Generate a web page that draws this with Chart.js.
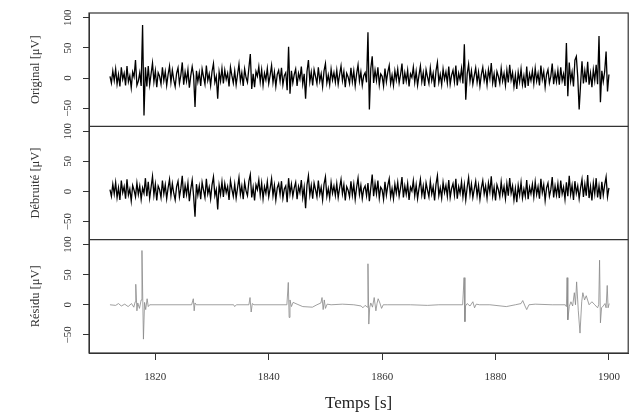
<!DOCTYPE html>
<html>
<head>
<meta charset="utf-8">
<script src="https://cdn.jsdelivr.net/npm/chart.js@4/dist/chart.umd.min.js"></script>
<style>
  body { margin: 0; background: #fff; }
  #wrap { width: 631px; height: 417px; }
</style>
</head>
<body>
<div id="wrap"><canvas id="chart" width="631" height="417"></canvas></div>
<script>
// dense signals are sampled every 0.25 s from 1812 s
const tStart = 1812;
const tStep = 0.25;

const original = [
  3, -8, 12, -4, 15, -10, 6, -14, 18, -2, 8, -12, 20, -6, 4, -16, 10, 2, 30, -12,
  -5, 9, -13, 88, -62, 18, -14, 20, -11, 7, 25, -6, 12, -15, 9, 3, -10, 18, -4, 11,
  -12, 6, 20, -7, 13, -3, -14, 8, 17, -9, 5, 26, -11, 10, -5, 14, -16, 4, 19, 4,
  -48, 12, -6, 9, -13, 15, 2, -10, 21, -4, 7, -12, 11, 24, -7, 3, -34, 10, -5, 16,
  -9, 13, -2, 8, -14, 18, 4, -8, 12, -11, 6, 23, -5, 9, -13, 15, 1, -7, 17, 40,
  -18, 7, -15, 11, 3, 19, -6, 14, -12, 8, -3, 16, -9, 5, 21, -7, 10, -14, 6, 13,
  -5, 17, -11, 4, 9, -20, 52, -26, 12, -8, 6, 15, -13, 8, -2, 19, -10, 7, -34, 11,
  30, -6, 10, -12, 14, 3, -9, 18, -5, 7, -14, 12, 24, -8, 5, -11, 15, -3, 9, -7,
  13, -10, 6, 20, -4, 11, -15, 8, 2, -9, 17, -6, 12, -13, 7, 22, -5, 10, -12, 4,
  9, -7, 76, -52, 16, 36, -8, 13, -4, 18, -11, 7, 3, -13, 16, -6, 10, 21, -9, 5,
  -12, 12, -3, 15, -8, 6, 24, -10, 9, -5, 13, -14, 7, 1, 18, -7, 11, -12, 5, 20,
  -6, 9, -13, 14, 2, -9, 17, -4, 8, -15, 12, 26, -7, 6, -11, 15, -2, 10, -8, 19,
  -10, 5, 13, -6, 21, -12, 8, -3, 16, -9, 56, -36, 7, 23, -5, 12, -10, 4, 17, -7,
  10, -13, 6, 18, -4, 9, -11, 14, -1, 25, -8, 7, -15, 11, 3, -9, 16, -5, 8, -12,
  13, -7, 22, -3, 9, -14, 5, -18, 10, -6, 15, -11, 4, -16, 19, -13, 7, -4, 12, -9,
  16, -5, 8, -12, 21, -2, 11, -15, 6, 14, -8, 3, 24, -10, 9, -6, 13, -11, 18, -4,
  7, -13, 58, -30, 26, -5, 10, -14, 30, 36, 2, -52, -10, 28, -9, 12, -7, 27, -11, 8,
  -15, 14, -4, 22, -10, 70, -40, 12, -6, 11, 44, -22, 6
];

const denoised = [
  3, -8, 12, -4, 15, -10, 6, -14, 18, -2, 8, -12, 20, -6, 4, -16, 10, 2, -9, 14,
  -5, 9, -13, 6, -3, 22, -8, 16, -11, 7, 25, -6, 12, -15, 9, 3, -10, 18, -4, 11,
  -12, 6, 20, -7, 13, -3, -14, 8, 17, -9, 5, 26, -11, 10, -5, 14, -16, 4, 19, -8,
  -42, 12, -6, 9, -13, 15, 2, -10, 21, -4, 7, -12, 11, 24, -7, 3, -30, 10, -5, 16,
  -9, 13, -2, 8, -14, 18, 4, -8, 12, -11, 6, 23, -5, 9, -13, 15, 1, -7, 17, 28,
  -10, 7, -15, 11, 3, 19, -6, 14, -12, 8, -3, 16, -9, 5, 21, -7, 10, -14, 6, 13,
  -5, 17, -11, 4, 9, -18, 22, -4, 12, -8, 6, 15, -13, 8, -2, 19, -10, 7, -28, 11,
  26, -6, 10, -12, 14, 3, -9, 18, -5, 7, -14, 12, 24, -8, 5, -11, 15, -3, 9, -7,
  13, -10, 6, 20, -4, 11, -15, 8, 2, -9, 17, -6, 12, -13, 7, 22, -5, 10, -12, 4,
  9, -7, 14, -16, 6, 28, -8, 13, -4, 18, -11, 7, 3, -13, 16, -6, 10, 21, -9, 5,
  -12, 12, -3, 15, -8, 6, 24, -10, 9, -5, 13, -14, 7, 1, 18, -7, 11, -12, 5, 20,
  -6, 9, -13, 14, 2, -9, 17, -4, 8, -15, 12, 26, -7, 6, -11, 15, -2, 10, -8, 19,
  -10, 5, 13, -6, 21, -12, 8, -3, 16, -9, 11, -14, 7, 23, -5, 12, -10, 4, 17, -7,
  10, -13, 6, 18, -4, 9, -11, 14, -1, 25, -8, 7, -15, 11, 3, -9, 16, -5, 8, -12,
  13, -7, 22, -3, 9, -14, 5, -18, 10, -6, 15, -11, 4, -8, 19, -13, 7, -4, 12, -9,
  16, -5, 8, -12, 21, -2, 11, -15, 6, 14, -8, 3, 24, -10, 9, -6, 13, -11, 18, -4,
  7, -13, 15, -8, 26, -5, 10, -14, 17, -3, 9, -12, 6, 20, -9, 12, -7, 27, -11, 8,
  -15, 14, -4, 22, -10, 9, -13, 16, -6, 11, 24, -9, 6
];

// residual: mostly flat, so only the turning points are kept
const residT = [
  1812, 1813, 1813.5, 1814, 1814.6, 1815.2, 1815.8, 1816.2, 1816.45, 1816.55,
  1816.75, 1816.9, 1817.2, 1817.5, 1817.64, 1817.9, 1818.1, 1818.3, 1818.55, 1818.75,
  1819, 1826.4, 1826.7, 1826.85, 1827.0, 1827.2, 1830, 1833.8, 1834.0, 1834.3,
  1836.5, 1836.7, 1836.9, 1837.1, 1837.4, 1843.2, 1843.45, 1843.6, 1843.75, 1844.0,
  1844.3, 1845, 1846, 1847.7, 1848.5, 1849.2, 1849.4, 1849.6, 1849.8, 1850.0,
  1850.3, 1851, 1853, 1855, 1856.3, 1856.6, 1857.0, 1857.4, 1857.5, 1857.65,
  1857.8, 1858.0, 1858.3, 1858.6, 1858.9, 1859.1, 1859.3, 1859.6, 1859.9, 1860.2,
  1861, 1865, 1868, 1870, 1874.2, 1874.45, 1874.6, 1874.7, 1875.0, 1875.5,
  1876.0, 1876.3, 1876.6, 1877.2, 1879, 1881.9, 1883.5, 1884.5, 1884.8, 1885.2,
  1885.5, 1885.9, 1887, 1890, 1892.3, 1892.5, 1892.62, 1892.75, 1893.0, 1893.3,
  1893.6, 1893.9, 1894.1, 1894.3, 1894.6, 1894.9, 1895.2, 1895.4, 1895.7, 1896.0,
  1896.5, 1897.0, 1897.5, 1898.0, 1898.2, 1898.35, 1898.5, 1898.7, 1899.0, 1899.3,
  1899.5, 1899.7, 1899.85, 1900.05
];
const residV = [
  0, -1, 2, -2, 1, -3, 2, -4, 5, 34,
  -10, 3, -6, 8, 90, -57, 4, -8, 10, -3,
  0, 0, 10, -10, 3, 0, 0, 0, -3, 0,
  0, 12, -12, 2, 0, 0, 37, -21, 8, -3,
  4, 1, -3, -4, 0, 3, 12, -8, 8, -6,
  1, 0, 1, 0, -2, -5, -1, -4, 68, -32,
  -5, 3, -4, 12, -10, 2, 10, 3, -6, 0,
  0, 0, -1, 0, 0, 45, -28, -2, 2, -2,
  5, -5, 1, 0, 0, -3, 0, 2, 7, -2,
  -8, 0, 1, 0, 0, -3, 45, -25, -3, 5,
  -2, 20, 0, 38, -10, -47, 5, 20, 8, 15,
  0, 5, 0, -5, 0, 74, -30, -5, -2, 2,
  -5, 32, -5, 2
];

const yTicks = [-50, 0, 50, 100];
const xTicks = [1820, 1840, 1860, 1880, 1900];

const serif = 'Liberation Serif';
const ink = '#333';

function timed(values) {
  return values.map((v, i) => ({ x: tStart + i * tStep, y: v }));
}

function yAxis(title, weight) {
  return {
    type: 'linear',
    position: 'left',
    stack: 'panels',
    stackWeight: 1,
    weight: weight,
    min: -80,
    max: 108,
    afterBuildTicks: axis => { axis.ticks = yTicks.map(v => ({ value: v })); },
    afterFit: axis => { axis.width = 89; },
    ticks: {
      minRotation: 90,
      maxRotation: 90,
      crossAlign: 'center',
      padding: 6,
      color: ink,
      font: { family: serif, size: 11 },
      callback: v => String(v).replace('-', '\u2212')
    },
    grid: { drawOnChartArea: false, tickLength: 6, color: ink },
    border: { display: true, color: ink, width: 1 },
    title: {
      display: true,
      text: title,
      color: ink,
      font: { family: serif, size: 12.5 },
      padding: { top: 28, bottom: 0 }
    }
  };
}

const panelFrames = {
  id: 'panelFrames',
  afterDraw(chart) {
    const { ctx, chartArea: a } = chart;
    ctx.save();
    ctx.strokeStyle = ink;
    ctx.lineWidth = 1.2;
    ctx.strokeRect(a.left, a.top, a.right - a.left, a.bottom - a.top);
    ['yDen', 'yRes'].forEach(id => {
      const y = chart.scales[id].top;
      ctx.beginPath();
      ctx.moveTo(a.left, y);
      ctx.lineTo(a.right, y);
      ctx.stroke();
    });
    ctx.restore();
  }
};

new Chart(document.getElementById('chart'), {
  type: 'line',
  data: {
    datasets: [
      {
        data: timed(original),
        yAxisID: 'yOrig',
        borderColor: '#000',
        borderWidth: 1.3
      },
      {
        data: timed(denoised),
        yAxisID: 'yDen',
        borderColor: '#000',
        borderWidth: 1.3
      },
      {
        data: residT.map((t, i) => ({ x: t, y: residV[i] })),
        yAxisID: 'yRes',
        borderColor: '#888',
        borderWidth: 0.8
      }
    ]
  },
  options: {
    responsive: false,
    animation: false,
    events: [],
    elements: { point: { radius: 0 }, line: { tension: 0 } },
    layout: { padding: { top: 13, right: 2, left: 0, bottom: 0 } },
    plugins: { legend: { display: false }, tooltip: { enabled: false } },
    scales: {
      x: {
        type: 'linear',
        position: 'bottom',
        min: 1808.3,
        max: 1903.4,
        afterBuildTicks: axis => { axis.ticks = xTicks.map(v => ({ value: v })); },
        afterFit: axis => { axis.height = 64; },
        ticks: {
          padding: 11,
          color: ink,
          font: { family: serif, size: 11 },
          callback: v => String(v)
        },
        grid: { drawOnChartArea: false, tickLength: 7, color: ink },
        border: { display: true, color: ink, width: 1 },
        title: {
          display: true,
          text: 'Temps [s]',
          color: '#222',
          font: { family: serif, size: 17 },
          padding: { top: 0, bottom: 3 }
        }
      },
      yOrig: yAxis('Original [μV]', 3),
      yDen: yAxis('Débruité [μV]', 2),
      yRes: yAxis('Résidu [μV]', 1)
    }
  },
  plugins: [panelFrames]
});
</script>
</body>
</html>
